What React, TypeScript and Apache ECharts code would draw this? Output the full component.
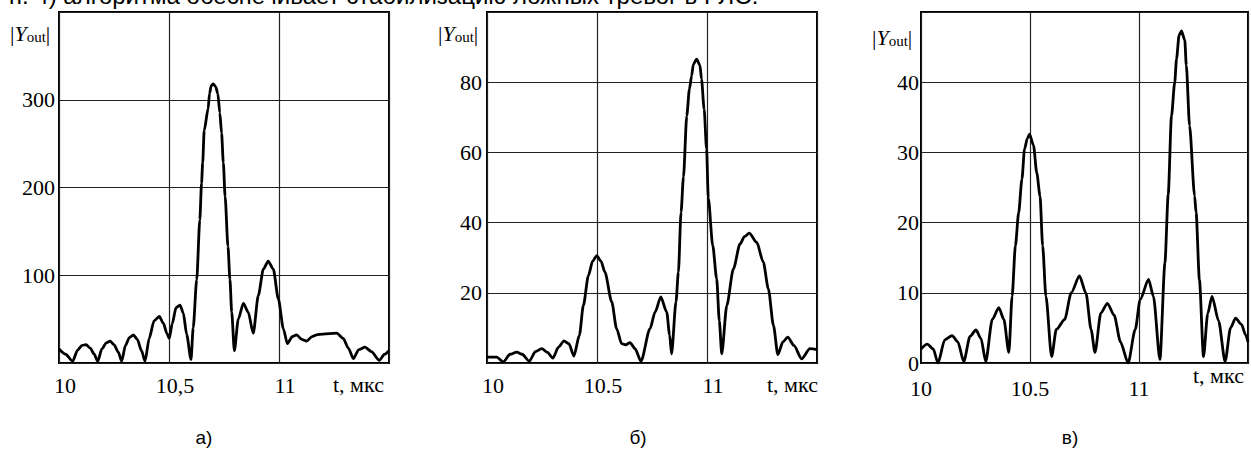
import React, { useEffect, useRef } from "react";
import * as echarts from "echarts";

// Panel а)
const tA = [10.0, 10.03, 10.062, 10.085, 10.105, 10.123, 10.142, 10.16, 10.176, 10.195, 10.215, 10.232, 10.25, 10.27, 10.285, 10.302, 10.32, 10.338, 10.356, 10.375, 10.391, 10.41, 10.432, 10.456, 10.475, 10.49, 10.501, 10.515, 10.532, 10.55, 10.565, 10.58, 10.6, 10.61, 10.626, 10.64, 10.648, 10.653, 10.66, 10.678, 10.684, 10.692, 10.701, 10.712, 10.722, 10.731, 10.739, 10.747, 10.755, 10.768, 10.777, 10.785, 10.797, 10.815, 10.838, 10.86, 10.883, 10.906, 10.929, 10.951, 10.974, 10.997, 11.02, 11.038, 11.06, 11.08, 11.103, 11.126, 11.15, 11.171, 11.2, 11.262, 11.292, 11.315, 11.338, 11.362, 11.391, 11.42, 11.456, 11.48, 11.5];
const yA = [16, 10, 2, 15, 20, 21, 17, 10, 2, 16, 23, 25, 21, 12, 2, 20, 29, 32, 27, 14, 2, 28, 48, 53, 45, 34, 28, 45, 63, 66, 57, 33, 4, 40, 95, 163, 205, 228, 265, 290, 307, 316, 318, 315, 307, 285, 262, 228, 190, 133, 95, 58, 14, 50, 68, 58, 34, 77, 107, 116, 107, 73, 39, 22, 30, 32, 27, 25, 30, 32, 33, 34, 28, 17, 5, 15, 18, 13, 3, 10, 14];

// Panel б)
const tB = [10.0, 10.044, 10.074, 10.105, 10.135, 10.16, 10.192, 10.22, 10.249, 10.275, 10.299, 10.325, 10.35, 10.372, 10.395, 10.42, 10.438, 10.461, 10.48, 10.499, 10.518, 10.536, 10.567, 10.589, 10.612, 10.63, 10.65, 10.673, 10.7, 10.741, 10.764, 10.79, 10.817, 10.83, 10.839, 10.859, 10.87, 10.882, 10.893, 10.908, 10.92, 10.93, 10.938, 10.953, 10.968, 10.975, 10.987, 10.998, 11.006, 11.026, 11.044, 11.056, 11.067, 11.09, 11.12, 11.15, 11.17, 11.192, 11.226, 11.256, 11.279, 11.302, 11.322, 11.345, 11.367, 11.395, 11.43, 11.468, 11.5];
const yB = [1.7, 1.7, 0.3, 2.5, 3.1, 2.5, 0.5, 3.2, 4.1, 3.0, 1.4, 4.5, 6.3, 5.5, 2, 7.9, 16.4, 24.9, 29, 30.6, 29, 25.9, 17.4, 9.8, 5.5, 5.2, 5.8, 4.1, 0.5, 9.8, 14.5, 18.8, 14.5, 8, 2.6, 17.4, 25.9, 43, 53, 70.4, 78, 81.8, 85.1, 86.6, 84.8, 80.9, 72.3, 61, 47, 33.5, 24, 12, 2.6, 16.4, 26.8, 33.9, 36, 37, 34.4, 28.7, 21.1, 10.7, 2.4, 6, 7.4, 5, 1.2, 4.1, 3.8];

// Panel в)
const tC = [10.0, 10.029, 10.056, 10.078, 10.109, 10.143, 10.169, 10.196, 10.225, 10.252, 10.275, 10.297, 10.327, 10.357, 10.38, 10.403, 10.418, 10.433, 10.448, 10.463, 10.475, 10.488, 10.498, 10.516, 10.531, 10.546, 10.558, 10.573, 10.599, 10.621, 10.659, 10.689, 10.727, 10.757, 10.78, 10.798, 10.825, 10.855, 10.886, 10.915, 10.95, 10.983, 11.005, 11.044, 11.066, 11.096, 11.119, 11.134, 11.149, 11.164, 11.172, 11.184, 11.195, 11.21, 11.217, 11.232, 11.255, 11.262, 11.277, 11.296, 11.315, 11.335, 11.365, 11.395, 11.42, 11.443, 11.47, 11.489, 11.5];
const yC = [2.0, 2.7, 2.0, 0, 3.3, 3.9, 3.0, 0.2, 3.8, 4.7, 3.5, 0.2, 6.2, 7.9, 6.2, 1.5, 9.5, 16.7, 21.4, 26.2, 30.5, 32, 32.6, 31, 27.1, 23.8, 16.7, 9.5, 0.9, 4.8, 6.2, 10, 12.4, 9.9, 4.8, 1.5, 7.1, 8.5, 6.8, 3, 0, 4.8, 9, 11.9, 9.5, 0.5, 14.3, 24, 35.2, 40, 43.3, 46.7, 47.3, 46, 42.4, 33.8, 23.8, 21.4, 11.9, 0.9, 7, 9.5, 6, 0.2, 5, 6.4, 5.5, 4, 3];

const yTicksA = [100, 200, 300];
const yTicksB = [20, 40, 60, 80];
const yTicksC = [0, 10, 20, 30, 40];
const xTicksA = ["10", "10,5", "11"];
const xTicksBC = ["10", "10.5", "11"];
const captions = ["а)", "б)", "в)"];
const headerText = "п. 4) алгоритма обеспечивает стабилизацию ложных тревог в РЛС.";

const SERIF = "'Liberation Serif', 'Times New Roman', serif";
const SANS = "'Liberation Sans', Arial, sans-serif";
const FS = 22;

const grids = [
  { left: 59, top: 12, width: 330, height: 351 },
  { left: 487, top: 12, width: 330, height: 351 },
  { left: 921, top: 12, width: 331, height: 351 },
];

function xLabelFmt(labels: string[]) {
  return (v: number) => {
    const idx = Math.round((v - 10) / 0.5);
    return idx >= 0 && idx < labels.length && Math.abs(v - (10 + idx * 0.5)) < 1e-6 ? labels[idx] : "";
  };
}
function yLabelFmt(ticks: number[]) {
  return (v: number) => (ticks.indexOf(v) >= 0 ? String(v) : "");
}

function yLabelGraphic(x: number, y: number) {
  return {
    type: "text",
    x,
    y,
    style: {
      text: "{b||}{y|Y}{s|out}{b||}",
      textVerticalAlign: "middle",
      rich: {
        b: { fontFamily: SERIF, fontSize: FS, fill: "#000" },
        y: { fontFamily: SERIF, fontSize: FS, fontStyle: "italic", fill: "#000" },
        s: { fontFamily: SERIF, fontSize: 15, fill: "#000", verticalAlign: "bottom" },
      },
    },
  };
}

export default function App() {
  const ref = useRef<HTMLDivElement>(null);
  useEffect(() => {
    if (!ref.current) return;
    const chart = echarts.init(ref.current, null, { renderer: "svg" });
    const yMax = [400, 100, 50];
    const yInt = [100, 20, 10];
    const yFmts = [yLabelFmt(yTicksA), yLabelFmt(yTicksB), yLabelFmt(yTicksC)];
    const xFmts = [xLabelFmt(xTicksA), xLabelFmt(xTicksBC), xLabelFmt(xTicksBC)];
    const xPad = [12, 12, 0];
    const xMargin = [11, 11, 14];
    const yMargin = [4, 5, 2];
    const datasets = [
      tA.map((t, i) => [t, yA[i]]),
      tB.map((t, i) => [t, yB[i]]),
      tC.map((t, i) => [t, yC[i]]),
    ];
    const option: any = {
      animation: false,
      backgroundColor: "#fff",
      grid: grids.map((g) => ({ ...g, show: true, borderColor: "#000", borderWidth: 2, backgroundColor: "transparent", containLabel: false })),
      xAxis: grids.map((_, i) => ({
        type: "value",
        gridIndex: i,
        min: 10,
        max: 11.5,
        interval: 0.5,
        axisLine: { show: false },
        axisTick: { show: false },
        splitLine: { show: true, lineStyle: { color: "#222", width: 1.2 } },
        axisLabel: {
          formatter: xFmts[i],
          fontFamily: SERIF,
          fontSize: FS,
          color: "#000",
          margin: xMargin[i],
          lineHeight: 22,
          padding: [0, 0, 0, xPad[i]],
          showMaxLabel: true,
          showMinLabel: true,
        },
      })),
      yAxis: grids.map((_, i) => ({
        type: "value",
        gridIndex: i,
        min: 0,
        max: yMax[i],
        interval: yInt[i],
        axisLine: { show: false },
        axisTick: { show: false },
        splitLine: { show: true, lineStyle: { color: "#222", width: 1.2 } },
        axisLabel: {
          formatter: yFmts[i],
          fontFamily: SERIF,
          fontSize: FS,
          color: "#000",
          margin: yMargin[i],
          lineHeight: 20,
          showMaxLabel: true,
          showMinLabel: true,
        },
      })),
      series: datasets.map((d, i) => ({
        type: "line",
        xAxisIndex: i,
        yAxisIndex: i,
        data: d,
        showSymbol: false,
        smooth: 0.25,
        smoothMonotone: "x",
        lineStyle: { color: "#000", width: 2.8 },
        clip: true,
      })),
      graphic: [
        {
          type: "text",
          x: 9,
          y: 7,
          style: { text: headerText, font: `24px ${SANS}`, fill: "#000", textVerticalAlign: "bottom" },
        },
        yLabelGraphic(10, 33),
        yLabelGraphic(438, 33),
        yLabelGraphic(872, 37),
        { type: "text", x: 333, y: 384, style: { text: "t, мкс", font: `${FS}px ${SERIF}`, fill: "#000", textVerticalAlign: "middle" } },
        { type: "text", x: 767, y: 384, style: { text: "t, мкс", font: `${FS}px ${SERIF}`, fill: "#000", textVerticalAlign: "middle" } },
        { type: "text", x: 1193, y: 375, style: { text: "t, мкс", font: `${FS}px ${SERIF}`, fill: "#000", textVerticalAlign: "middle" } },
        ...captions.map((c, i) => ({
          type: "text",
          x: [204, 638, 1070][i],
          y: 437,
          style: { text: c, font: `19px ${SANS}`, fill: "#000", textAlign: "center", textVerticalAlign: "middle" },
        })),
      ],
    };
    chart.setOption(option);
    return () => chart.dispose();
  }, []);
  return <div ref={ref} style={{ position: "absolute", left: 0, top: 0, width: 1251, height: 460 }} />;
}
